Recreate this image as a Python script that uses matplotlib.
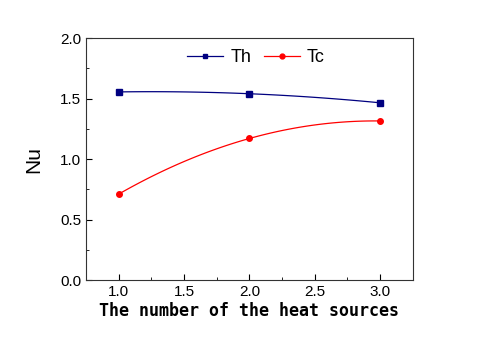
import numpy as np
import matplotlib
matplotlib.use("Agg")
import matplotlib.pyplot as plt
from matplotlib.ticker import MultipleLocator

x = [1.0, 2.0, 3.0]
th = [1.555, 1.54, 1.465]
tc = [0.71, 1.17, 1.315]

plt.rcParams['font.family'] = ['Liberation Sans', 'DejaVu Sans']
fig = plt.figure(figsize=(4.8, 3.37), dpi=100)
ax = fig.add_axes([0.179, 0.169, 0.681, 0.718])

xs = np.linspace(min(x), max(x), 100)
for ys, col, mk, lab in [(th, '#000080', 's', 'Th'), (tc, '#ff0000', 'o', 'Tc')]:
    p = np.polyfit(x, ys, 2)
    ax.plot(xs, np.polyval(p, xs), color=col, lw=0.9)
    ax.plot(x, ys, linestyle='none', marker=mk, color=col, ms=4)
    ax.plot([], [], color=col, lw=0.9, marker=mk, ms=3.5, label=lab)

ax.set_xlim(0.75, 3.25)
ax.set_ylim(0, 2.0)
ax.xaxis.set_major_locator(MultipleLocator(0.5))
ax.xaxis.set_minor_locator(MultipleLocator(0.25))
ax.yaxis.set_major_locator(MultipleLocator(0.5))
ax.yaxis.set_minor_locator(MultipleLocator(0.25))
ax.tick_params(which='both', direction='in', top=False, right=False, labelsize=11)
ax.tick_params(which='major', length=4)
ax.tick_params(which='minor', length=2.5)
for s in ax.spines.values():
    s.set_linewidth(0.8)
    s.set_color('#333333')

ax.set_xlabel('The number of the heat sources', family='DejaVu Sans Mono',
              fontweight='bold', fontsize=12, labelpad=2)
ax.set_ylabel('Nu', fontsize=15, labelpad=12)
ax.legend(loc='upper center', ncol=2, frameon=False, fontsize=13,
          handlelength=2.0, columnspacing=0.7, handletextpad=0.4,
          bbox_to_anchor=(0.52, 1.02))

fig.savefig('out.png', dpi=100)
